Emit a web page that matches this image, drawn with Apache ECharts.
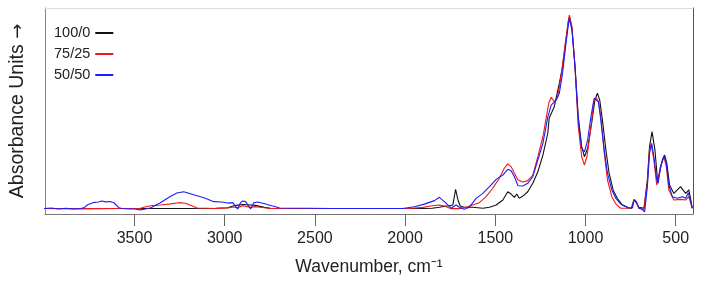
<!DOCTYPE html>
<html>
<head>
<meta charset="utf-8">
<script src="https://cdn.jsdelivr.net/npm/echarts@6/dist/echarts.min.js"></script>
<style>
  html, body { margin: 0; padding: 0; background: #fff; }
  #chart { width: 703px; height: 283px; }
</style>
</head>
<body>
<div id="chart"></div>
<script>
const FONT = '"Liberation Sans", Arial, sans-serif';

const xTicks = [500, 1000, 1500, 2000, 2500, 3000, 3500];
const seriesNames = ['100/0', '75/25', '50/50'];

// 100/0 (black)
const wn100 = [4000, 3800, 3600, 3400, 3200, 3050, 2983, 2950, 2928, 2900, 2856, 2830, 2780, 2740, 2400, 2100, 1900, 1850,
  1810, 1772, 1754, 1735, 1720, 1707, 1694, 1672, 1625, 1569, 1532, 1495, 1458, 1431, 1412, 1394, 1381, 1367, 1347,
  1320, 1292, 1264, 1236, 1209, 1201, 1173, 1145, 1127, 1108, 1094, 1088, 1075, 1058, 1040, 1021, 1006, 988, 966,
  948, 934, 921, 906, 887, 869, 847, 824, 796, 758, 740, 731, 717, 704, 676, 657, 645, 631, 615, 600, 589, 574, 561,
  549, 534, 510, 491, 473, 460, 444, 427, 416, 408];
const ab100 = [0.027, 0.026, 0.027, 0.027, 0.027, 0.028, 0.030, 0.040, 0.043, 0.046, 0.044, 0.042, 0.032, 0.027, 0.027, 0.027, 0.027, 0.028,
  0.033, 0.039, 0.040, 0.044, 0.120, 0.068, 0.039, 0.033, 0.033, 0.028, 0.033, 0.044, 0.068, 0.108, 0.097, 0.081, 0.097, 0.076, 0.087,
  0.108, 0.149, 0.205, 0.286, 0.392, 0.466, 0.521, 0.634, 0.715, 0.845, 0.942, 0.958, 0.901, 0.715, 0.472, 0.327, 0.278, 0.319, 0.440,
  0.553, 0.586, 0.553, 0.456, 0.311, 0.198, 0.117, 0.076, 0.044, 0.028, 0.030, 0.068, 0.052, 0.033, 0.028, 0.165, 0.327, 0.400, 0.311, 0.157, 0.165, 0.262, 0.286,
  0.246, 0.141, 0.100, 0.117, 0.133, 0.117, 0.100, 0.117, 0.068, 0.028];

// 75/25 (red)
const wn75 = [4000, 3800, 3600, 3470, 3449, 3411, 3356, 3300, 3254, 3217, 3180, 3152, 3050, 2983, 2950, 2928, 2900, 2856, 2830,
  2780, 2740, 2400, 2100, 1976, 1900, 1850, 1810, 1782, 1745, 1699, 1661, 1625, 1588, 1551, 1514, 1478, 1450, 1431, 1412,
  1394, 1374, 1347, 1320, 1292, 1264, 1236, 1217, 1203, 1190, 1173, 1154, 1136, 1112, 1090, 1075, 1058, 1040, 1021, 1006,
  992, 974, 955, 943, 928, 915, 896, 878, 854, 832, 805, 745, 731, 717, 704, 676, 657, 645, 636, 621, 605, 597, 584, 565,
  552, 538, 510, 473, 444, 427, 408];
const ab75 = [0.027, 0.026, 0.027, 0.027, 0.033, 0.040, 0.044, 0.049, 0.055, 0.052, 0.039, 0.029, 0.027, 0.029, 0.034, 0.031, 0.040, 0.032, 0.036,
  0.030, 0.027, 0.027, 0.027, 0.027, 0.032, 0.040, 0.044, 0.039, 0.026, 0.026, 0.033, 0.044, 0.055, 0.084, 0.125, 0.173, 0.222, 0.243, 0.230,
  0.198, 0.165, 0.155, 0.162, 0.189, 0.278, 0.375, 0.470, 0.540, 0.566, 0.545, 0.569, 0.666, 0.829, 0.966, 0.909, 0.715, 0.424, 0.278, 0.238,
  0.278, 0.392, 0.537, 0.566, 0.545, 0.472, 0.295, 0.165, 0.084, 0.049, 0.028, 0.028, 0.068, 0.052, 0.028, 0.023, 0.149, 0.311, 0.340, 0.262, 0.141, 0.133, 0.230, 0.278,
  0.230, 0.117, 0.068, 0.071, 0.068, 0.084, 0.028];

// 50/50 (blue)
const wn50 = [4000, 3960, 3920, 3880, 3840, 3800, 3780, 3760, 3730, 3700, 3681, 3660, 3636, 3615, 3603, 3585, 3570, 3530, 3500,
  3465, 3440, 3409, 3359, 3304, 3265, 3227, 3166, 3111, 3060, 3016, 2983, 2955, 2928, 2912, 2900, 2884, 2856, 2839, 2817,
  2778, 2740, 2695, 2400, 2100, 2014, 1948, 1893, 1837, 1810, 1782, 1745, 1717, 1699, 1672, 1644, 1606, 1569, 1532, 1495,
  1458, 1431, 1412, 1394, 1374, 1347, 1320, 1292, 1264, 1236, 1209, 1190, 1162, 1145, 1127, 1108, 1090, 1075, 1058, 1040,
  1021, 1006, 988, 970, 952, 943, 928, 915, 896, 878, 854, 832, 805, 767, 745, 731, 717, 704, 686, 672, 657, 645, 633, 621,
  605, 597, 584, 565, 552, 538, 519, 491, 463, 444, 430, 417, 408];
const ab50 = [0.027, 0.029, 0.024, 0.028, 0.024, 0.027, 0.030, 0.045, 0.055, 0.058, 0.063, 0.059, 0.061, 0.055, 0.045, 0.030, 0.027, 0.025, 0.024,
  0.020, 0.024, 0.030, 0.053, 0.084, 0.102, 0.108, 0.092, 0.078, 0.060, 0.058, 0.053, 0.055, 0.024, 0.055, 0.063, 0.060, 0.024, 0.055, 0.058,
  0.050, 0.040, 0.029, 0.027, 0.027, 0.027, 0.035, 0.048, 0.065, 0.081, 0.060, 0.028, 0.044, 0.033, 0.023, 0.033, 0.076, 0.100, 0.133, 0.168,
  0.189, 0.217, 0.210, 0.181, 0.137, 0.136, 0.149, 0.181, 0.262, 0.343, 0.470, 0.529, 0.553, 0.586, 0.683, 0.829, 0.950, 0.893, 0.715, 0.456,
  0.319, 0.302, 0.359, 0.472, 0.562, 0.569, 0.545, 0.456, 0.311, 0.198, 0.117, 0.076, 0.049, 0.033, 0.028, 0.071, 0.060, 0.028, 0.023, 0.011, 0.133, 0.295, 0.343, 0.278,
  0.165, 0.149, 0.230, 0.282, 0.246, 0.141, 0.084, 0.076, 0.084, 0.076, 0.103, 0.060, 0.028];

const colors = ['#111111', '#f01818', '#1c1cff'];

function pairs(xs, ys) {
  return xs.map((x, i) => [x, ys[i]]);
}

const chart = echarts.init(document.getElementById('chart'));

const hiddenAxisParts = {
  axisTick: { show: false },
  axisLabel: { show: false },
  splitLine: { show: false }
};

chart.setOption({
  animation: false,
  color: colors,
  grid: { left: 44, right: 10, top: 8, bottom: 69 },
  legend: {
    data: seriesNames,
    orient: 'vertical',
    left: 54,
    top: 25,
    padding: 0,
    align: 'right',
    icon: 'rect',
    itemWidth: 18,
    itemHeight: 2,
    itemGap: 5,
    textStyle: { fontFamily: FONT, fontSize: 14.5, lineHeight: 16, color: '#222' }
  },
  xAxis: [
    {
      type: 'value',
      inverse: true,
      min: 404,
      max: 3996,
      position: 'bottom',
      name: 'Wavenumber, cm⁻¹',
      nameLocation: 'middle',
      nameGap: 44,
      nameTextStyle: { fontFamily: FONT, fontSize: 17.5, color: '#222' },
      axisLine: { show: true, onZero: false, lineStyle: { color: '#777', width: 1 } },
      axisTick: { show: true, length: 12, customValues: xTicks, lineStyle: { color: '#666' } },
      axisLabel: {
        customValues: xTicks,
        margin: 17,
        fontFamily: FONT,
        fontSize: 16,
        color: '#222',
        formatter: v => String(v)
      },
      splitLine: { show: false }
    },
    Object.assign({
      type: 'value',
      inverse: true,
      min: 404,
      max: 3996,
      position: 'top',
      axisLine: { show: true, onZero: false, lineStyle: { color: '#ddd', width: 1 } }
    }, hiddenAxisParts)
  ],
  yAxis: [
    Object.assign({
      type: 'value',
      min: 0,
      max: 1,
      name: 'Absorbance Units {arrow|→}',
      nameLocation: 'middle',
      nameGap: 17,
      nameTextStyle: {
        fontFamily: FONT,
        fontSize: 19.5,
        color: '#222',
        rich: { arrow: { fontFamily: '"DejaVu Sans"', fontSize: 18, color: '#222' } }
      },
      axisLine: { show: true, onZero: false, lineStyle: { color: '#888', width: 1 } }
    }, hiddenAxisParts),
    Object.assign({
      type: 'value',
      min: 0,
      max: 1,
      position: 'right',
      axisLine: { show: true, onZero: false, lineStyle: { color: '#555', width: 1 } }
    }, hiddenAxisParts)
  ],
  series: [
    { name: seriesNames[0], type: 'line', data: pairs(wn100, ab100) },
    { name: seriesNames[1], type: 'line', data: pairs(wn75, ab75) },
    { name: seriesNames[2], type: 'line', data: pairs(wn50, ab50) }
  ].map(s => Object.assign(s, {
    symbol: 'none',
    showSymbol: false,
    lineStyle: { width: 1.1 },
    emphasis: { disabled: true }
  }))
});
</script>
</body>
</html>
